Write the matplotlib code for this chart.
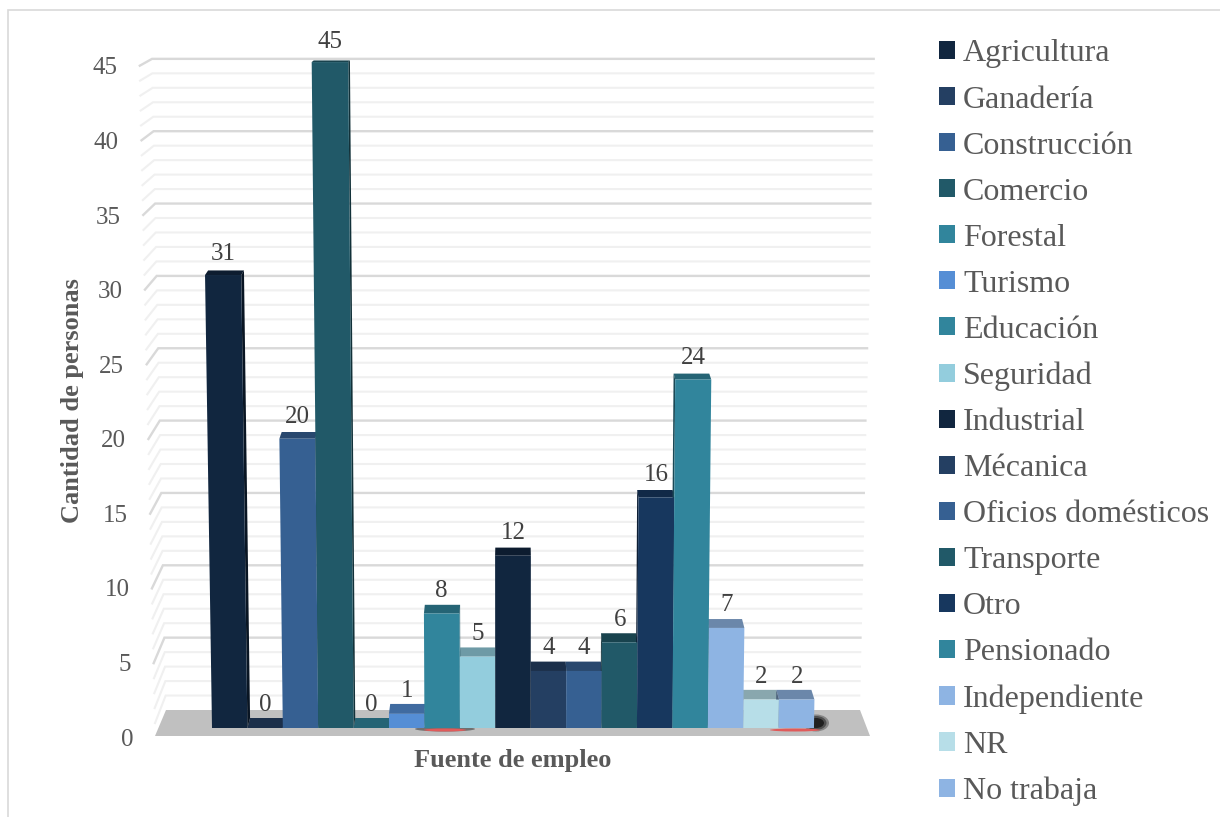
import matplotlib
matplotlib.use("Agg")
import matplotlib.pyplot as plt
from matplotlib.patches import Polygon, Patch, Rectangle, Ellipse

categories = ["Agricultura", "Ganadería", "Construcción", "Comercio", "Forestal", "Turismo",
              "Educación", "Seguridad", "Industrial", "Mécanica", "Oficios domésticos",
              "Transporte", "Otro", "Pensionado", "Independiente", "NR", "No trabaja"]
values = [31, 0, 20, 45, 0, 1, 8, 5, 12, 4, 4, 6, 16, 24, 7, 2, 2]
colors = ["#11263f", "#243f62", "#366092", "#215968", "#31859c", "#558ed5", "#31859c", "#93cddd",
          "#11263f", "#243f62", "#366092", "#215968", "#17375e", "#31859c", "#8eb4e3", "#b7dee8", "#8eb4e3"]
yticks = [0, 5, 10, 15, 20, 25, 30, 35, 40, 45]

W, H = 1220, 817
TEXT = "#595959"
SERIF = "Liberation Serif"

# axes box in pixels of the picture
AX_L, AX_R, AX_T, AX_B = 155, 870, 66, 737
BAR_X0, BAR_W = 212, 35.41
PX_Y = (AX_B - AX_T) / 45
CX = 8.47       # category position the perspective converges on


def shade(c, f):
    r, g, b = matplotlib.colors.to_rgb(c)
    return (r * f, g * f, b * f)


def px_x(px):
    return (px - BAR_X0) / BAR_W


def px_y(py):
    return (AX_B - py) / PX_Y


def front_y(v):
    return px_y(728 - 14.2 * v - 0.0133 * v * v)


def back_y(v):
    return px_y(718 - 14.05 * v - 0.0125 * v * v)


def lean(i, v):
    return CX + (i - CX) * (1 + 0.00075 * v)


def back_x(i, v):
    return CX + (lean(i, v) - CX) * 0.99


fig = plt.figure(figsize=(W / 100, H / 100), dpi=100)
fig.add_artist(Rectangle((8 / W, -0.1), 1.2, (H - 10) / H + 0.1, transform=fig.transFigure,
                         fill=False, edgecolor="#d9d9d9", linewidth=1.2))

ax = fig.add_axes([AX_L / W, 1 - AX_B / H, (AX_R - AX_L) / W, (AX_B - AX_T) / H])
ax.set_xlim(px_x(AX_L), px_x(AX_R))
ax.set_ylim(0, 45)
for s in ax.spines.values():
    s.set_visible(False)
ax.patch.set_visible(False)

# walls: a line on the side and one on the back for each unit
for v in range(1, 46):
    major = v % 5 == 0
    col = "#d9d9d9" if major else "#f0f0f0"
    lw = 1.7 if major else 1.5
    by = px_y(710 - 14.47 * v)
    fy = px_y(739 - 14.95 * v)
    ax.plot([px_x(155 - 0.36 * v), px_x(166 - 0.31 * v), px_x(860 + 0.33 * v)],
            [fy, by, by], color=col, lw=lw, clip_on=False, zorder=1,
            solid_capstyle="butt", solid_joinstyle="miter")

# floor
ax.add_patch(Polygon([(px_x(166), px_y(710)), (px_x(860), px_y(710)), (px_x(870), px_y(736)),
                      (px_x(155), px_y(736))], closed=True, facecolor="#c0c0c0",
                     edgecolor="none", clip_on=False, zorder=2))

# rendering leftovers on the floor of the original
ax.add_patch(Ellipse((px_x(445), px_y(729)), 60 / BAR_W, 5 / PX_Y, fc="#222222", ec="none", alpha=0.5, zorder=2.1))
ax.add_patch(Ellipse((px_x(445), px_y(730)), 42 / BAR_W, 3 / PX_Y, fc="#e05a5a", ec="none", zorder=2.2))
for w, h, a in [(26, 17, 0.3), (21, 14, 0.4), (16, 10, 0.6)]:
    ax.add_patch(Ellipse((px_x(816), px_y(723)), w / BAR_W, h / PX_Y, fc="#000000", ec="none", alpha=a, zorder=2.1))
ax.add_patch(Ellipse((px_x(795), px_y(730)), 50 / BAR_W, 3 / PX_Y, fc="#e05a5a", ec="none", zorder=2.2))

# bars, caps and sides first so the fronts sit over them
for i, (v, c) in enumerate(zip(values, colors)):
    fy0, fy1, by1 = front_y(0), front_y(v), back_y(v)
    xl, xr = lean(i, v), lean(i + 1, v)
    ax.add_patch(Polygon([(xl, fy1), (xr, fy1), (back_x(i + 1, v), by1), (back_x(i, v), by1)],
                         closed=True, facecolor=shade(c, 0.75), edgecolor="none",
                         clip_on=False, zorder=3))
    edge = i + 1 if i + 0.5 < CX else i
    ax.add_patch(Polygon([(lean(edge, 0), fy0), (lean(edge, v), fy1), (back_x(edge, v), by1),
                          (back_x(edge, 0), back_y(0))], closed=True, facecolor=shade(c, 0.55),
                         edgecolor="none", clip_on=False, zorder=4))

for i, (v, c) in enumerate(zip(values, colors)):
    fy0, fy1 = front_y(0), front_y(v)
    ax.add_patch(Polygon([(lean(i, 0), fy0), (lean(i + 1, 0), fy0), (lean(i + 1, v), fy1), (lean(i, v), fy1)],
                         closed=True, facecolor=c, edgecolor="none", clip_on=False, zorder=5 + v * 0.01))
    offset = (13 + 0.11 * v) * 0.72
    ax.annotate(str(v), (lean(i + 0.5, v), back_y(v)), xytext=(0, offset), textcoords="offset points",
                ha="center", va="center", fontsize=18, family=SERIF, color="#404040", zorder=8,
                annotation_clip=False)

ax.set_xticks([])
ax.set_yticks(yticks)
ax.set_yticklabels([str(t) for t in yticks], family=SERIF, fontsize=18, color=TEXT)
ax.tick_params(axis="y", length=0)
for t, tick in zip(yticks, ax.yaxis.get_major_ticks()):
    tick.set_pad((AX_L - (133 - 0.355 * t)) * 0.72)

ax.set_xlabel("Fuente de empleo", family=SERIF, fontsize=19, fontweight="bold", color=TEXT)
ax.xaxis.set_label_coords((513 - AX_L) / (AX_R - AX_L), (AX_B - 760) / (AX_B - AX_T))
ax.xaxis.label.set_va("center")
ax.set_ylabel("Cantidad de personas", family=SERIF, fontsize=19, fontweight="bold", color=TEXT)
ax.yaxis.set_label_coords((73 - AX_L) / (AX_R - AX_L), (AX_B - 401) / (AX_B - AX_T))
ax.yaxis.label.set_va("center")

handles = [Patch(facecolor=c, edgecolor="none", label=n) for n, c in zip(categories, colors)]
fig.legend(handles=handles, loc="upper left", bbox_to_anchor=(939 / W, 1 - 39.5 / H), frameon=False,
           prop={"family": SERIF, "size": 23}, labelcolor=TEXT, handlelength=0.5, handleheight=0.5,
           handletextpad=0.25, labelspacing=0.533, borderpad=0, borderaxespad=0)

fig.savefig("out.png", dpi=100)
